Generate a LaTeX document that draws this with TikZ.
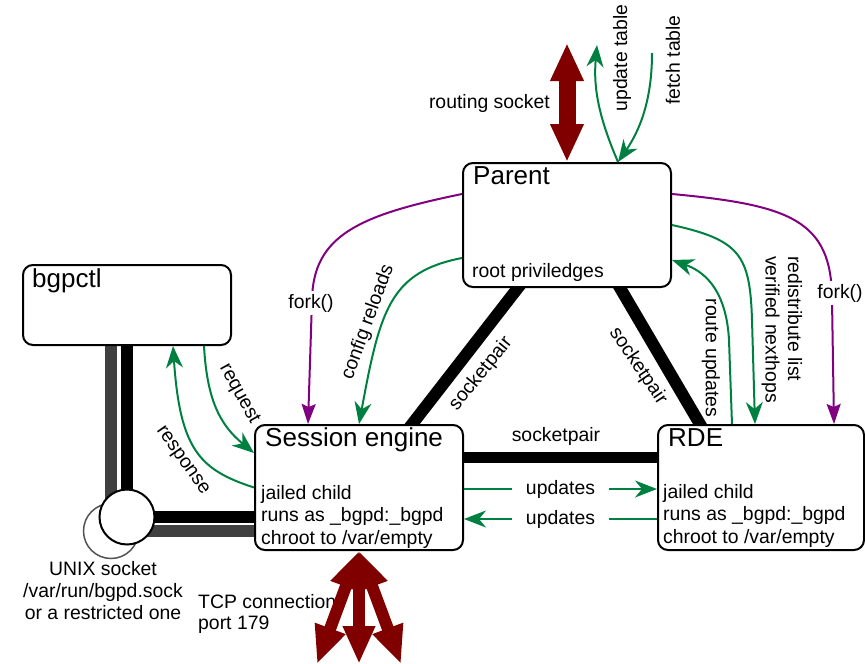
\documentclass[tikz,border=0pt]{standalone}
\usepackage{fontspec}
\setmainfont{Liberation Sans}
\usetikzlibrary{arrows.meta,calc}
\definecolor{flowgreen}{RGB}{0,128,64}
\definecolor{forkpurple}{RGB}{128,0,128}
\definecolor{sockred}{RGB}{128,0,0}
\definecolor{pipegray}{RGB}{64,64,64}
\pgfdeclarelayer{back}
\pgfsetlayers{back,main}

\begin{document}
\begin{tikzpicture}[x=1pt,y=-1pt,
  proc/.style={draw,line width=2pt,rounded corners=10pt,fill=white,inner sep=0pt},
  txt/.style={font=\fontsize{19.4}{22.5}\selectfont,inner sep=0pt},
  title/.style={font=\fontsize{26}{30}\selectfont,inner sep=0pt,anchor=base west},
  flow/.style={draw=flowgreen,line width=2pt,-{Stealth[length=22pt,width=17pt,inset=7pt]}},
  fork/.style={draw=forkpurple,line width=2pt,-{Stealth[length=20pt,width=14pt,inset=3pt]}},
  pair/.style={line width=12pt},
  bigarrow/.style={draw=sockred,fill=sockred,line width=17pt,
    {Triangle[length=38pt,width=31pt]}-{Triangle[length=38pt,width=31pt]}},
  tcparrow/.style={draw=sockred,fill=sockred,line width=12pt,
    {Triangle[length=38pt,width=30pt]}-{Triangle[length=38pt,width=30pt]}},
  gap/.style={txt,fill=white,inner xsep=14pt,inner ysep=2pt},
  forklbl/.style={txt,fill=white,inner sep=3pt},
  sockcircle/.style={circle,fill=white,minimum size=55pt,inner sep=0pt},
]
\useasboundingbox (0,0) rectangle (865,664);

% processes
\node[proc,minimum width=208pt,minimum height=124pt] (parent) at (567,225) {};
\node[proc,minimum width=208pt,minimum height=80pt] (ctl) at (127,305) {};
\node[proc,minimum width=208pt,minimum height=125pt] (se) at (359,487.5) {};
\node[proc,minimum width=206pt,minimum height=125pt] (rde) at (761,487.5) {};

% control socket
\node[sockcircle,draw=pipegray!90,line width=1.5pt] (sockb) at (111,531) {};
\node[sockcircle,draw=black,line width=2pt] (sock) at (127,517) {};

\begin{pgfonlayer}{back}
  % socket pipes to bgpctl and the session engine
  \draw[pair,draw=pipegray] (sockb.center |- ctl.south) -- (sockb.center) -- (sockb.center -| se.west);
  \draw[pair,draw=black] (ctl.south) -- (sock.center) -- (sock.center -| se.west);
  % socketpairs between the processes
  \draw[pair] ([xshift=-43pt,yshift=8pt]parent.south) -- ([xshift=47pt,yshift=-8pt]se.north);
  \draw[pair] ([xshift=48.4pt,yshift=8pt]parent.south) -- ([xshift=-56.4pt,yshift=-8pt]rde.north);
  \draw[line width=11pt] ([yshift=30.5pt]se.east) -- ([yshift=30.5pt]rde.west);
\end{pgfonlayer}

% texts inside the boxes
\node[title] (tparent) at ([xshift=11pt,yshift=-22pt]parent.north west) {Parent};
\node[txt,anchor=base west] (troot) at ([xshift=10pt,yshift=11pt]parent.south west) {root priviledges};
\node[title] (tctl) at ([xshift=10pt,yshift=-23pt]ctl.north west) {bgpctl};
\node[title] (tse) at ([xshift=11pt,yshift=-22pt]se.north west) {Session engine};
\node[txt,anchor=base west,align=left] (bse) at ([xshift=7pt,yshift=7pt]se.south west)
  {jailed child\\runs as \_bgpd:\_bgpd\\chroot to /var/empty};
\node[title] (trde) at ([xshift=11pt,yshift=-22pt]rde.north west) {RDE};
\node[txt,anchor=base west,align=left] (brde) at ([xshift=6pt,yshift=8pt]rde.south west)
  {jailed child\\runs as \_bgpd:\_bgpd\\chroot to /var/empty};

% free ends
\coordinate (rsock) at (567,43);
\coordinate (upd) at (597,45);
\coordinate (fetch) at (652,53);
\coordinate (tcp1) at (317,664);
\coordinate (tcp2) at (359,664);
\coordinate (tcp3) at (401,664);

% fork() edges
\draw[fork] ([yshift=31pt]parent.west) .. controls (360,215) and (313,235) .. (312,300) -- ([xshift=-51pt]se.north);
\draw[fork] ([yshift=31pt]parent.east) .. controls (790,205) and (832,220) .. (832,300) -- ([xshift=73pt]rde.north);
\node[forklbl] (lfork1) at (311,303) {fork()};
\node[forklbl] (lfork2) at (840,293) {fork()};

% imsg flows
\draw[flow] ([yshift=-33pt]parent.west) .. controls (390,272) and (380,310) .. (se.north);
\draw[flow] (parent.east) .. controls (740,240) and (750,255) .. (752,320) -- ([xshift=-6pt]rde.north);
\draw[flow] ([xshift=-29pt]rde.north) -- (729,340) .. controls (726,285) and (700,270) .. ([yshift=-35pt]parent.east);
\draw[flow] ([xshift=77pt]ctl.south) .. controls (207,400) and (220,425) .. ([yshift=34.5pt]se.west);
\draw[flow] (se.west) .. controls (200,470) and (180,450) .. ([xshift=46pt]ctl.south);
\draw[flow] ([xshift=51pt]parent.north) .. controls (600,120) and (593,90) .. (upd);
\draw[flow] (fetch) .. controls (652,100) and (640,130) .. ([xshift=51pt]parent.north);
\draw[flow] ([yshift=-1.5pt]se.east) -- node[gap] (lupd1) {updates} ([yshift=-1.5pt]rde.west);
\draw[flow] ([yshift=-31.5pt]rde.west) -- node[gap] (lupd2) {updates} ([yshift=-31.5pt]se.east);

% edge labels
\node[txt,anchor=base east] (lrs) at (550,108) {routing socket};
\node[txt,rotate=90] (lut) at (622,58) {update table};
\node[txt,rotate=90] (lft) at (673,60) {fetch table};
\node[txt,rotate=70] (lcfg) at (368,322) {config reloads};
\node[txt,rotate=51] (lsp1) at (481,374) {socketpair};
\node[txt,rotate=-56] (lsp2) at (638,366) {socketpair};
\node[txt] (lsp3) at (556,436) {socketpair};
\node[txt,rotate=-90] (lru) at (711,358) {route updates};
\node[txt,rotate=-90,anchor=west,align=left] (lrd) at (782,256) {redistribute list\\verified nexthops};
\node[txt,rotate=-61] (lreq) at (239,394) {request};
\node[txt,rotate=-55] (lresp) at (182,461) {response};
\node[txt,font=\fontsize{19.4}{22}\selectfont,align=center,anchor=base] (lsock) at (103,619) {UNIX socket\\/var/run/bgpd.sock\\or a restricted one};
\node[txt,font=\fontsize{19.4}{21}\selectfont,align=left,anchor=base west] (ltcp) at (198,629) {TCP connection\\port 179};

% kernel routing socket and BGP sessions
\draw[bigarrow] (rsock) -- (parent.north);
\draw[tcparrow] (se.south) -- (tcp1);
\draw[tcparrow] (se.south) -- (tcp2);
\draw[tcparrow] (se.south) -- (tcp3);
\end{tikzpicture}
\end{document}
